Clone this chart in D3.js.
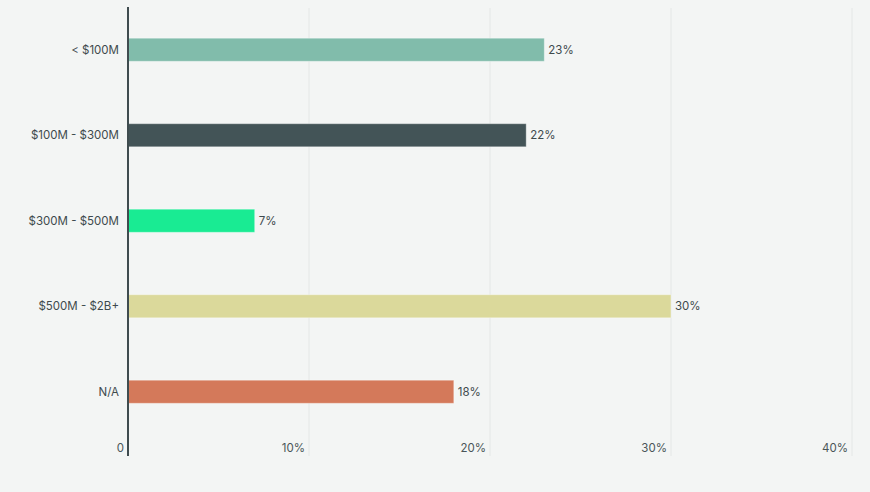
<!DOCTYPE html>
<html>
<head>
<meta charset="utf-8">
<script src="https://cdn.jsdelivr.net/npm/d3@7"></script>
<style>
  html, body { margin: 0; padding: 0; background: #f3f5f4; }
  svg { display: block; font-family: Inter, "Noto Sans", sans-serif; }
</style>
</head>
<body>
<div id="chart"></div>
<script>
// data
const categories = ["< $100M", "$100M - $300M", "$300M - $500M", "$500M - $2B+", "N/A"];
const values = [23, 22, 7, 30, 18];
const barColors = ["#81bcab", "#435457", "#19eb93", "#dbd99b", "#d4795a"];
const xTicks = [0, 10, 20, 30, 40];

const width = 870, height = 492;
const margin = { top: 7, right: 18, bottom: 58, left: 128 };

const svg = d3.select("#chart").append("svg")
  .attr("width", width)
  .attr("height", height);

svg.append("rect").attr("width", width).attr("height", height).attr("fill", "#f3f5f4");

const x = d3.scaleLinear()
  .domain([0, 40])
  .range([margin.left, 852]);

const y = d3.scaleBand()
  .domain(categories)
  .range([margin.top, 434.5])
  .paddingInner(0.73)
  .paddingOuter(0.365);

const gridBottom = 456;

// gridlines
svg.append("g")
  .selectAll("line")
  .data(xTicks.slice(1))
  .join("line")
  .attr("x1", d => x(d)).attr("x2", d => x(d))
  .attr("y1", 8).attr("y2", gridBottom)
  .attr("stroke", "#e4e7e6")
  .attr("stroke-width", 1);

// x tick labels (right-aligned, left of gridline)
svg.append("g")
  .selectAll("text")
  .data(xTicks)
  .join("text")
  .attr("x", d => x(d) - 4)
  .attr("y", 452)
  .attr("text-anchor", "end")
  .attr("font-size", 11.5)
  .attr("fill", "#4a5558")
  .text(d => d === 0 ? "0" : d + "%");

// bars
svg.append("g")
  .selectAll("rect")
  .data(values)
  .join("rect")
  .attr("x", x(0))
  .attr("y", (d, i) => y(categories[i]))
  .attr("width", d => x(d) - x(0))
  .attr("height", y.bandwidth())
  .attr("fill", (d, i) => barColors[i])
  .attr("stroke", "rgba(255,255,255,0.35)")
  .attr("stroke-width", 1);

// value labels
svg.append("g")
  .selectAll("text")
  .data(values)
  .join("text")
  .attr("x", d => x(d) + 4)
  .attr("y", (d, i) => y(categories[i]) + y.bandwidth() / 2)
  .attr("dy", "0.35em")
  .attr("font-size", 11.5)
  .attr("fill", "#3e4a4d")
  .text(d => d + "%");

// category labels
svg.append("g")
  .selectAll("text")
  .data(categories)
  .join("text")
  .attr("x", x(0) - 9)
  .attr("y", d => y(d) + y.bandwidth() / 2)
  .attr("dy", "0.35em")
  .attr("text-anchor", "end")
  .attr("font-size", 11.5)
  .attr("fill", "#3e4a4d")
  .text(d => d);

// y axis line
svg.append("line")
  .attr("x1", x(0)).attr("x2", x(0))
  .attr("y1", 7).attr("y2", gridBottom)
  .attr("stroke", "#3f4c4f")
  .attr("stroke-width", 2);
</script>
</body>
</html>
